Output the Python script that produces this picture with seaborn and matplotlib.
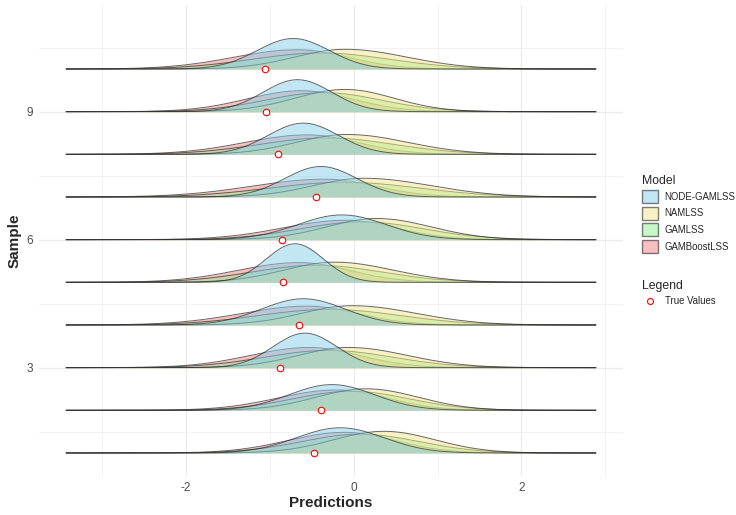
import numpy as np
import pandas as pd
import matplotlib
matplotlib.use("Agg")
import matplotlib.pyplot as plt
from matplotlib.patches import Patch
from matplotlib.lines import Line2D
import seaborn as sns

# ---------------- data ----------------
samples = [1, 2, 3, 4, 5, 6, 7, 8, 9, 10]
models = ["NODE-GAMLSS", "NAMLSS", "GAMLSS", "GAMBoostLSS"]

# each predictive density: mode, left spread, right spread
node_mode = [-0.16, -0.26, -0.58, -0.60, -0.70, -0.14, -0.39, -0.60, -0.67, -0.72]
node_sdl = [0.52, 0.51, 0.38, 0.50, 0.34, 0.53, 0.43, 0.42, 0.41, 0.43]
node_sdr = [0.52, 0.51, 0.38, 0.50, 0.34, 0.53, 0.43, 0.42, 0.41, 0.43]

namlss_mode = [0.36, 0.15, -0.06, -0.02, -0.23, 0.28, 0.12, -0.08, -0.10, -0.10]
namlss_sdl = [0.60, 0.60, 0.60, 0.60, 0.60, 0.60, 0.60, 0.60, 0.60, 0.60]
namlss_sdr = [0.61, 0.62, 0.70, 0.76, 0.70, 0.64, 0.80, 0.72, 0.58, 0.73]

gamlss_mode = [0.08, -0.03, -0.30, -0.29, -0.44, 0.10, -0.11, -0.32, -0.36, -0.39]
gamlss_sdl = [0.70, 0.69, 0.76, 0.84, 0.77, 0.74, 0.89, 0.80, 0.69, 0.82]
gamlss_sdr = [0.70, 0.69, 0.76, 0.84, 0.77, 0.74, 0.89, 0.80, 0.69, 0.82]

boost_mode = [-0.11, -0.21, -0.53, -0.55, -0.65, -0.09, -0.34, -0.55, -0.62, -0.67]
boost_sdl = [0.67, 0.69, 0.70, 0.79, 0.73, 0.75, 0.87, 0.75, 0.65, 0.76]
boost_sdr = [0.60, 0.60, 0.60, 0.60, 0.60, 0.60, 0.60, 0.60, 0.60, 0.60]

true_values = [-0.47, -0.39, -0.88, -0.65, -0.84, -0.85, -0.45, -0.90, -1.04, -1.06]

x_range = [-3.43, 2.89]

params = {
    "NODE-GAMLSS": (node_mode, node_sdl, node_sdr),
    "NAMLSS": (namlss_mode, namlss_sdl, namlss_sdr),
    "GAMLSS": (gamlss_mode, gamlss_sdl, gamlss_sdr),
    "GAMBoostLSS": (boost_mode, boost_sdl, boost_sdr),
}
colors = {
    "NODE-GAMLSS": "#87CEEB",
    "NAMLSS": "#F0E68C",
    "GAMLSS": "#90EE90",
    "GAMBoostLSS": "#F08080",
}
ALPHA = 0.5
SCALE = 0.77  # ridge height per unit density (in sample units)

def split_normal(x, m, sl, sr):
    a = 2.0 / (np.sqrt(2 * np.pi) * (sl + sr))
    s = np.where(x < m, sl, sr)
    return a * np.exp(-((x - m) ** 2) / (2 * s ** 2))

xs = np.linspace(x_range[0], x_range[1], 700)
rows = []
for mdl in models:
    mo, sl, sr = params[mdl]
    for i, s in enumerate(samples):
        d = split_normal(xs, mo[i], sl[i], sr[i])
        rows.append(pd.DataFrame({"x": xs, "height": s + SCALE * d,
                                  "Sample": s, "Model": mdl}))
ridges = pd.DataFrame(pd.concat(rows, ignore_index=True))
truth = pd.DataFrame({"Sample": samples, "value": true_values})

# ---------------- figure ----------------
sns.set_theme(style="whitegrid")
plt.rcParams["font.family"] = ["Liberation Sans", "DejaVu Sans"]
plt.rcParams["axes.unicode_minus"] = False

W, H = 736, 515
fig = plt.figure(figsize=(W / 100, H / 100), dpi=100)
ax = fig.add_axes([39 / W, 1 - 476 / H, (623 - 39) / W, (476 - 5) / H])
ax.set_facecolor("white")

draw_order = ["GAMBoostLSS", "GAMLSS", "NAMLSS", "NODE-GAMLSS"]
z = 2
for s in samples[::-1]:
    for mdl in draw_order:
        sub = ridges[(ridges["Sample"] == s) & (ridges["Model"] == mdl)]
        ax.fill_between(sub["x"], s, sub["height"], color=colors[mdl],
                        alpha=ALPHA, linewidth=0, zorder=z)
        ax.plot(sub["x"], sub["height"], color="#333333", lw=0.7,
                alpha=0.75, zorder=z + 0.5, solid_capstyle="butt")
        z += 1

sns.scatterplot(data=truth, x="value", y="Sample", ax=ax, marker="o",
                s=22, facecolor="white", edgecolor="red", linewidth=0.8,
                zorder=z + 5, legend=False)

ax.set_xlim(-3.75, 3.21)
ax.set_ylim(0.46, 11.5)
ax.set_xticks([-2, 0, 2])
ax.set_xticks([-3, -1, 1, 3], minor=True)
ax.set_yticks([3, 6, 9])
ax.set_yticks([1.5, 4.5, 7.5, 10.5], minor=True)
ax.grid(which="major", color="#ebebeb", lw=0.9)
ax.grid(which="minor", color="#f0f0f0", lw=0.6)
ax.set_axisbelow(True)
for sp in ax.spines.values():
    sp.set_visible(False)
ax.tick_params(axis="both", which="both", length=0, labelsize=8.5,
               labelcolor="#4d4d4d", pad=4)
ax.set_xlabel("Predictions", fontsize=11, fontweight="bold", labelpad=2)
ax.set_ylabel("Sample", fontsize=11, fontweight="bold", labelpad=4)

# legends
model_handles = [Patch(facecolor=colors[m], alpha=ALPHA, edgecolor="black",
                       linewidth=1.0, label=m) for m in models]
leg1 = fig.legend(handles=model_handles, title="Model", loc="upper left",
                  bbox_to_anchor=(633 / W, 1 - 166 / H), frameon=False,
                  fontsize=6.9, title_fontsize=8.8, handlelength=1.7,
                  handleheight=1.7, handletextpad=0.7, labelspacing=0.38,
                  alignment="left")
pt_handle = [Line2D([0], [0], marker="o", linestyle="none", markersize=4.3,
                    markerfacecolor="white", markeredgecolor="red",
                    markeredgewidth=0.8, label="True Values")]
leg2 = fig.legend(handles=pt_handle, title="Legend", loc="upper left",
                  bbox_to_anchor=(633 / W, 1 - 271 / H), frameon=False,
                  fontsize=6.9, title_fontsize=8.8, handlelength=1.7,
                  handletextpad=0.7, alignment="left")

fig.savefig("out.png", dpi=100, facecolor="white")
